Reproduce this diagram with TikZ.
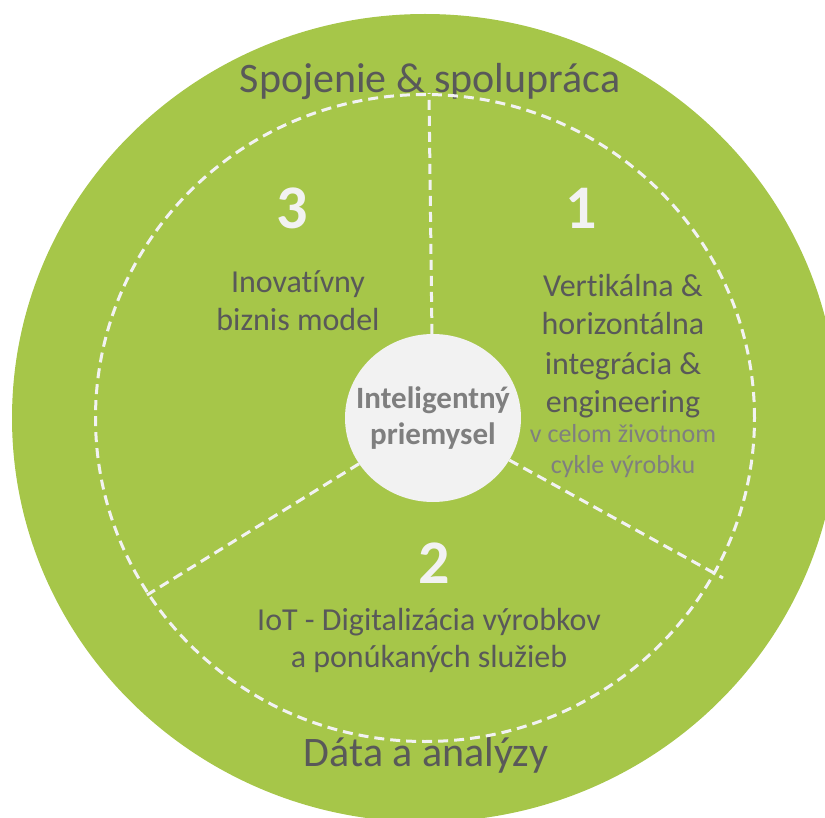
\documentclass[tikz,border=0pt]{standalone}
\usepackage{fontspec}
\setmainfont{Carlito}[Ligatures=NoCommon]
\usetikzlibrary{shapes.geometric}
\definecolor{leafgreen}{RGB}{166,198,73}
\definecolor{inkgray}{RGB}{89,89,89}
\definecolor{softgray}{RGB}{127,127,127}
\definecolor{paleinner}{RGB}{242,242,242}

\begin{document}
\begin{tikzpicture}[x=1pt, y=-1pt, inner sep=0pt,
    ringline/.style={draw=paleinner, line width=3pt, dash pattern=on 10pt off 6pt},
    heading/.style={text=inkgray, font=\fontsize{42}{50}\selectfont},
    digit/.style={text=paleinner, font=\fontsize{62}{70}\selectfont\bfseries},
    pillar/.style={text=inkgray, align=center, font=\fontsize{32}{39}\selectfont},
    remark/.style={text=softgray, align=center, font=\fontsize{26}{31}\selectfont}]
  \useasboundingbox (0,0) rectangle (825,818);
  \node[ellipse, fill=leafgreen, minimum width=826pt, minimum height=808pt] (disc) at (425,418) {};%
  \node[heading, anchor=base] (link) at (430,93) {Spojenie \& spolupráca};%
  \node[heading, anchor=base] (data) at (426,766) {Dáta a analýzy};%
  \node[ellipse, ringline, minimum width=659pt, minimum height=647pt] (ring) at (425,418) {};%
  \node[ellipse, fill=paleinner, minimum width=176pt, minimum height=168pt, inner sep=-24pt,
    align=center, text=softgray, font=\fontsize{31}{36}\selectfont\bfseries] (core) at (433,418)
    {Inteligentný\\priemysel};%
  \coordinate (topend) at (429,93);%
  \coordinate (leftend) at (147,595);%
  \coordinate (rightend) at (723,578);%
  \draw[ringline] (core) -- (topend);%
  \draw[ringline] (core) -- (leftend);%
  \draw[ringline] (core) -- (rightend);%
  \node[digit, anchor=base] (three) at (292,229) {3};%
  \node[digit, anchor=base] (one) at (581,229) {1};%
  \node[digit, anchor=base] (two) at (434,583) {2};%
  \node[pillar, anchor=base] (model) at (298,331) {Inovatívny\\biznis model};%
  \node[pillar, anchor=base] (integ) at (623,413)
    {Vertikálna \&\\horizontálna\\integrácia \&\\engineering};%
  \node[remark, anchor=base] (cycle) at (623,473) {v celom životnom\\cykle výrobku};%
  \node[pillar, anchor=base, font=\fontsize{32}{37}\selectfont] (iot) at (429,667)
    {IoT - Digitalizácia výrobkov\\a ponúkaných služieb};%
\end{tikzpicture}
\end{document}
